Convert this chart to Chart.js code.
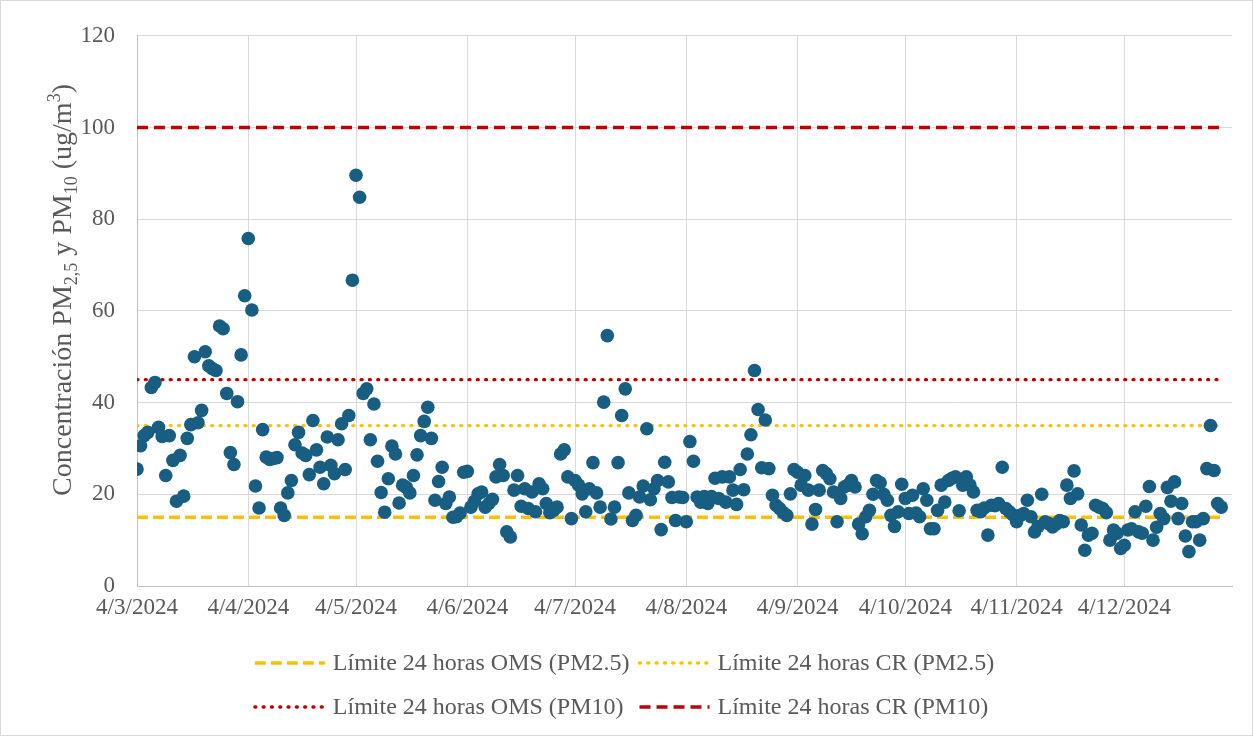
<!DOCTYPE html>
<html>
<head>
<meta charset="utf-8">
<script src="https://cdn.jsdelivr.net/npm/chart.js@4.4.1/dist/chart.umd.min.js"></script>
<style>
  html, body { margin: 0; padding: 0; background: #fff; }
</style>
</head>
<body>
<canvas id="chart" width="1253" height="736"></canvas>
<script>
// first day of the series: 4 March 2024 (labels are d/m/yyyy)
const startDate = Date.UTC(2024, 2, 4);
const tickLabels = ['4/3/2024', '4/4/2024', '4/5/2024', '4/6/2024', '4/7/2024',
                    '4/8/2024', '4/9/2024', '4/10/2024', '4/11/2024', '4/12/2024'];
const yTicks = [0, 20, 40, 60, 80, 100, 120];

// daily concentration (ug/m3), one value per day from 4/3/2024 to 31/12/2024
const marData = [25.5, 30.6, 32.8, 33.5, 43.3, 44.4, 34.6, 32.6, 24.1, 32.8, 27.4, 18.5, 28.5, 19.6, 32.2, 35.2,
                 50, 35.6, 38.3, 51.1, 48, 47.4, 47, 56.7, 56.1, 42, 29.1, 26.5, 40.2, 50.4, 63.3];
const aprData = [75.8, 60.2, 21.8, 17, 34.1, 28.1, 27.6, 27.8, 28, 17, 15.4, 20.3, 23, 30.8, 33.5, 29,
                 28.5, 24.3, 36.1, 29.7, 25.9, 22.3, 32.5, 26.3, 24.5, 31.9, 35.4, 25.4, 37.2, 66.7];
const mayData = [89.6, 84.8, 42, 43, 31.9, 39.7, 27.2, 20.4, 16.1, 23.4, 30.5, 28.8, 18.1, 22, 21.5, 20.3,
                 24.1, 28.6, 32.8, 35.9, 39, 32.2, 18.7, 22.8, 25.9, 18, 19.4, 15, 15.1, 15.9, 24.8];
const junData = [25, 17.2, 18.5, 20.1, 20.5, 17.2, 18, 18.9, 23.8, 26.5, 24.1, 11.8, 10.7, 20.9, 24.1,
                 17.4, 21.2, 16.9, 20.5, 16.2, 22.3, 21.2, 18, 16, 16.5, 17.2, 28.8, 29.7, 23.8, 14.7];
const julData = [23, 22, 20.1, 16.2, 21.2, 26.9, 20.3, 17.2, 40.1, 54.6, 14.6, 17.2, 26.9, 37.2, 43, 20.3,
                 14.3, 15.4, 19.4, 21.8, 34.3, 18.8, 21.2, 23, 12.3, 27, 22.7, 19.3, 14.3, 19.4, 19.3];
const augData = [14, 31.5, 27.2, 19.4, 18.3, 19.5, 18, 19.5, 23.5, 19.1, 23.8, 18.3, 23.8, 20.9, 17.8, 25.4,
                 21, 28.8, 33, 47, 38.5, 25.8, 36.2, 25.6, 19.8, 17.6, 16.9, 16, 15.4, 20.1, 25.4];
const sepData = [24.8, 22, 24.1, 20.9, 13.5, 16.7, 20.9, 25.2, 24.5, 23.4, 20.5, 14, 19.1, 21.6, 22,
                 23, 21.6, 13.5, 11.4, 15.1, 16.5, 20, 23, 22.5, 20, 18.7, 15.4, 13, 16.2, 22.2];
const octData = [19.1, 15.8, 19.8, 15.9, 15.1, 21.2, 18.7, 12.5, 12.5, 16.5, 22, 18.3, 23, 23.5, 23.8, 16.4,
                 22, 23.8, 22, 20.5, 16.5, 16.2, 17, 11.1, 17.6, 17.5, 18, 25.9, 16.9, 16.2, 15.5];
const novData = [14, 15.4, 15.8, 18.7, 15.1, 11.8, 13, 20, 14, 13.6, 12.9, 13.5, 14.3, 14, 22,
                 19.1, 25.1, 20.1, 13.3, 7.8, 11.1, 11.5, 17.6, 17.2, 16.9, 16, 10, 12.2, 11.5, 8.2];
const decData = [8.9, 12.2, 12.5, 16.2, 11.8, 11.5, 17.4, 21.7, 10, 12.8, 15.8, 14.7, 21.5, 18.5,
                 22.7, 14.7, 18, 10.9, 7.5, 14, 14, 10, 14.7, 25.6, 35, 25.2, 18, 17.2];

// 24 h limits
const limitNames = ['Límite 24 horas OMS (PM2.5)', 'Límite 24 horas CR (PM2.5)',
                    'Límite 24 horas OMS (PM10)', 'Límite 24 horas CR (PM10)'];
const limitValues = [15, 35, 45, 100];

const dailyValues = [].concat(marData, aprData, mayData, junData, julData, augData,
                              sepData, octData, novData, decData);
const lastDay = dailyValues.length - 1;

function dayOf(label) {
  const [d, m, y] = label.split('/').map(Number);
  return Math.round((Date.UTC(y, m - 1, d) - startDate) / 86400000);
}
const tickDays = tickLabels.map(dayOf);

const FONT = 'Liberation Serif';
const GREY = '#595959';
const GOLD = '#FFC000';
const RED = '#C00000';
const lineStyles = [
  { color: GOLD, dash: [11, 5], cap: 'butt' },
  { color: GOLD, dash: [1, 7.3], cap: 'round' },
  { color: RED, dash: [1, 7.3], cap: 'round' },
  { color: RED, dash: [11, 6], cap: 'butt' }
];

const limitSets = limitNames.map((name, i) => ({
  type: 'line',
  label: name,
  data: [{ x: 0, y: limitValues[i] }, { x: lastDay, y: limitValues[i] }],
  borderColor: lineStyles[i].color,
  borderDash: lineStyles[i].dash,
  borderCapStyle: lineStyles[i].cap,
  borderWidth: 3.3,
  pointRadius: 0,
  order: 1
}));

const decor = {
  id: 'decor',
  beforeDraw(chart) {
    const c = chart.ctx;
    c.save();
    c.fillStyle = '#fff';
    c.fillRect(0, 0, chart.width, chart.height);
    c.strokeStyle = '#d9d9d9';
    c.lineWidth = 1;
    c.strokeRect(0.5, 0.5, chart.width - 1, chart.height - 1);
    c.restore();
  },
  afterDraw(chart) {
    const c = chart.ctx;
    // y axis title with sub/superscripts
    const parts = [
      ['Concentración PM', 0], ['2,5', 1], [' y PM', 0], ['10', 1], [' (ug/m', 0], ['3', -1], [')', 0]
    ];
    const big = '28px "' + FONT + '"', small = '18px "' + FONT + '"';
    c.save();
    let total = 0;
    parts.forEach(p => { c.font = p[1] ? small : big; total += c.measureText(p[0]).width; });
    c.translate(71, 290);
    c.rotate(-Math.PI / 2);
    c.fillStyle = GREY;
    c.textBaseline = 'alphabetic';
    let x = -total / 2;
    parts.forEach(p => {
      c.font = p[1] ? small : big;
      c.fillText(p[0], x, p[1] === 1 ? 6 : (p[1] === -1 ? -11 : 0));
      x += c.measureText(p[0]).width;
    });
    c.restore();

    // legend: 2 columns x 2 rows
    c.save();
    c.font = '24px "' + FONT + '"';
    const lineLen = 70, gapTxt = 8, gapItem = 10;
    const widths = limitNames.map(n => lineLen + gapTxt + c.measureText(n).width);
    const colW = Math.max(...widths) + gapItem;
    const startX = (chart.width - (2 * colW - gapItem)) / 2 + 8;
    const rowsY = [663, 707];
    limitSets.forEach((ds, i) => {
      const x0 = startX + (i % 2) * colW;
      const y0 = rowsY[Math.floor(i / 2)];
      c.strokeStyle = ds.borderColor;
      c.lineWidth = 3.3;
      c.lineCap = ds.borderCapStyle;
      c.setLineDash(ds.borderDash);
      c.beginPath();
      c.moveTo(x0, y0);
      c.lineTo(x0 + lineLen, y0);
      c.stroke();
      c.setLineDash([]);
      c.fillStyle = GREY;
      c.textBaseline = 'middle';
      c.fillText(ds.label, x0 + lineLen + gapTxt, y0 + 1);
    });
    c.restore();
  }
};

new Chart(document.getElementById('chart'), {
  data: {
    datasets: [
      {
        type: 'scatter',
        label: 'Concentración diaria',
        data: dailyValues.map((v, d) => ({ x: d, y: v })),
        backgroundColor: '#185E82',
        borderColor: '#185E82',
        borderWidth: 0,
        pointRadius: 6.8,
        order: 0
      },
      ...limitSets
    ]
  },
  options: {
    responsive: false,
    animation: false,
    layout: { padding: { top: 34, right: 21, bottom: 110, left: 0 } },
    plugins: { legend: { display: false }, tooltip: { enabled: false } },
    scales: {
      x: {
        type: 'linear',
        min: 0,
        max: 305,
        afterBuildTicks: s => { s.ticks = tickDays.map(v => ({ value: v })); },
        afterFit: s => { s.height = 40; },
        ticks: {
          autoSkip: false, maxRotation: 0, minRotation: 0, padding: 8,
          color: GREY, font: { family: FONT, size: 23 },
          callback: (v, i) => tickLabels[i]
        },
        grid: { color: '#d9d9d9', lineWidth: 1, drawTicks: false },
        border: { color: '#bfbfbf', width: 1 }
      },
      y: {
        min: 0,
        max: 120,
        afterBuildTicks: s => { s.ticks = yTicks.map(v => ({ value: v })); },
        afterFit: s => { s.width = 137; },
        ticks: { padding: 22, color: GREY, font: { family: FONT, size: 23 } },
        grid: { color: '#d9d9d9', lineWidth: 1, drawTicks: false },
        border: { color: '#bfbfbf', width: 1 }
      }
    }
  },
  plugins: [decor]
});
</script>
</body>
</html>
